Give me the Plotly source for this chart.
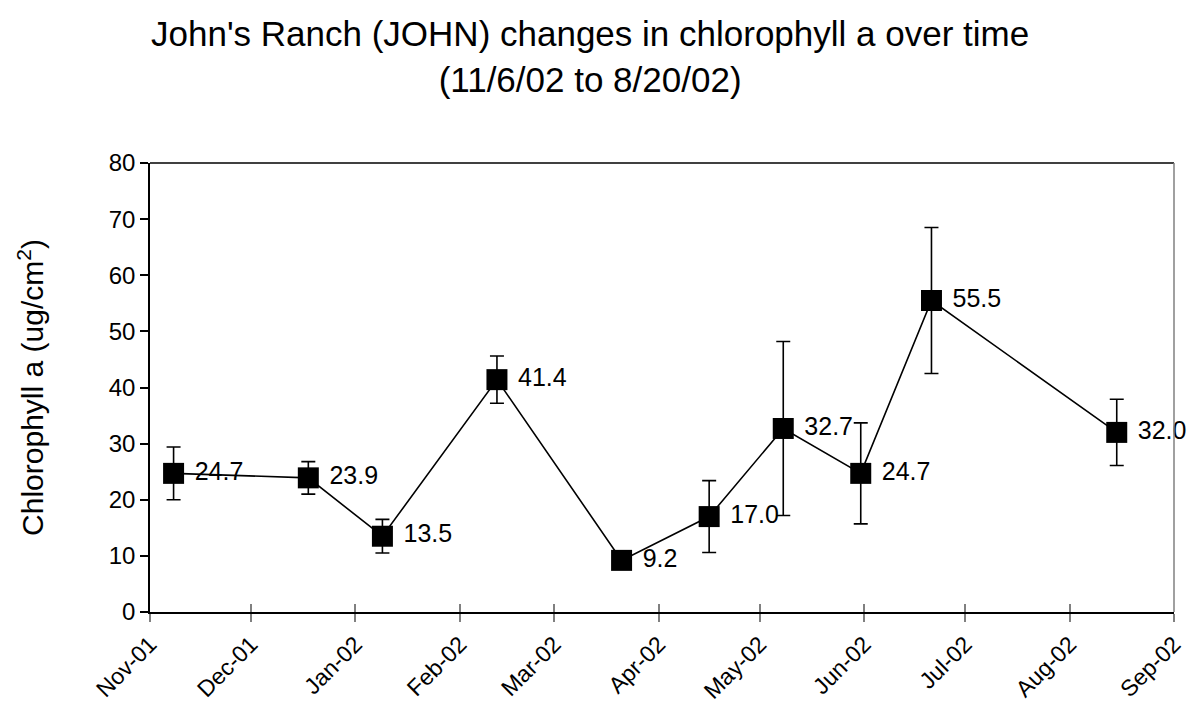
import plotly.graph_objects as go

# ---- data ----
dates = ["2001-11-08", "2001-12-18", "2002-01-09", "2002-02-12", "2002-03-21",
         "2002-04-16", "2002-05-08", "2002-05-31", "2002-06-21", "2002-08-15"]
chl = [24.7, 23.9, 13.5, 41.4, 9.2, 17.0, 32.7, 24.7, 55.5, 32.0]
err = [4.7, 2.9, 3.0, 4.2, 1.0, 6.4, 15.5, 9.0, 13.0, 5.9]
labels = [f" {v:.1f}" for v in chl]

x_range = ["2001-11-01", "2002-09-01"]
y_range = [0, 80]

title_text = "John's Ranch (JOHN) changes in chlorophyll a over time<br>(11/6/02 to 8/20/02)"
ytitle_text = "Chlorophyll a (ug/cm<sup>2</sup>)"

FONT = "Liberation Sans, Arial, sans-serif"

fig = go.Figure()

fig.add_trace(go.Scatter(
    x=dates, y=chl,
    mode="lines+markers+text",
    text=labels,
    textposition="middle right",
    textfont=dict(size=25, color="black", family=FONT),
    line=dict(color="black", width=1.6),
    marker=dict(symbol="square", size=21, color="black"),
    error_y=dict(type="data", array=err, visible=True, color="black",
                 thickness=1.6, width=7),
    showlegend=False,
    cliponaxis=False,
))

# invisible trace to carry the overlaying axis that draws the inside tick halves
fig.add_trace(go.Scatter(x=x_range, y=[0, 0], xaxis="x2", yaxis="y",
                         mode="lines", line=dict(width=0), opacity=0,
                         showlegend=False, hoverinfo="skip"))

fig.update_layout(
    width=1190, height=704,
    paper_bgcolor="white", plot_bgcolor="white",
    font=dict(family=FONT, color="black"),
    margin=dict(l=150, r=16, t=163, b=92),
    xaxis=dict(
        type="date", range=x_range, automargin=False,
        tick0="2001-11-01", dtick="M1", tickformat="%b-%y",
        tickangle=-45,
        ticks="outside", ticklen=8, tickwidth=1.5, tickcolor="#808080",
        showline=True, linecolor="black", linewidth=1.5,
        showgrid=False, zeroline=False,
        tickfont=dict(size=23, family=FONT, color="black"),
    ),
    xaxis2=dict(
        type="date", range=x_range, overlaying="x", anchor="y", automargin=False,
        tick0="2001-11-01", dtick="M1",
        ticks="inside", ticklen=8, tickwidth=1.5, tickcolor="#808080",
        showticklabels=False, showline=False, showgrid=False, zeroline=False,
    ),
    yaxis=dict(
        range=y_range, dtick=10, automargin=False,
        ticks="outside", ticklen=8, tickwidth=1.5, tickcolor="black",
        showline=True, linecolor="black", linewidth=1.5,
        showgrid=False, zeroline=False,
        tickfont=dict(size=24, family=FONT, color="black"),
        title=dict(text=ytitle_text,
                   font=dict(size=30, family=FONT, color="black"),
                   standoff=56),
    ),
    annotations=[
        dict(text=title_text, xref="paper", yref="paper",
             x=0.43, y=1.336, xanchor="center", yanchor="top",
             showarrow=False, align="center",
             font=dict(size=35, family=FONT, color="black")),
    ],
    shapes=[
        dict(type="line", xref="paper", yref="paper", x0=0, x1=1, y0=1, y1=1,
             line=dict(color="black", width=1.5)),
        dict(type="line", xref="paper", yref="paper", x0=1, x1=1, y0=0, y1=1,
             line=dict(color="#808080", width=1.5)),
    ],
)

fig.write_html("out.html",
               config={"displayModeBar": False},
               post_script="document.body.style.margin='0';document.body.style.overflow='hidden';")
